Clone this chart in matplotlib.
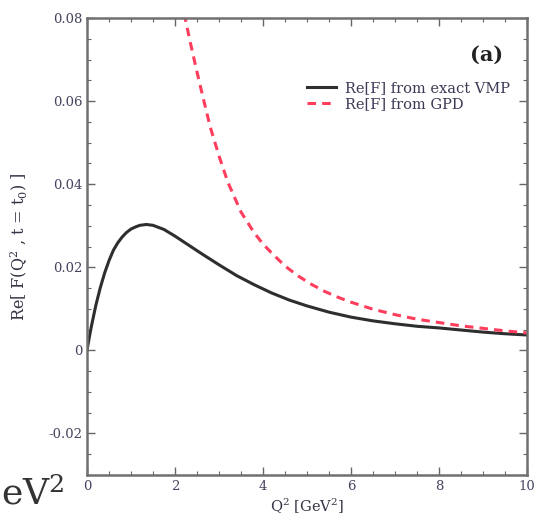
#!/usr/bin/env python3
# -*- coding: utf-8 -*-

import matplotlib

matplotlib.use("Agg")
import matplotlib.pyplot as plt
from matplotlib.ticker import MultipleLocator

plt.rcParams["font.family"] = ["DejaVu Serif"]
plt.rcParams["mathtext.fontset"] = "dejavuserif"

# Re[F] from exact VMP (black, solid)
q2_vmp = [0.0, 0.05, 0.1, 0.2, 0.3, 0.4, 0.5, 0.6, 0.7, 0.8, 0.9, 1.0, 1.1,
          1.2, 1.35, 1.5, 1.75, 2.0, 2.3, 2.6, 3.0, 3.4, 3.8, 4.2, 4.6, 5.0,
          5.5, 6.0, 6.5, 7.0, 7.5, 8.0, 8.5, 9.0, 9.5, 10.0]
re_vmp = [0.0, 0.0030, 0.0058, 0.0108, 0.0150, 0.0186, 0.0216, 0.0241,
          0.0259, 0.0273, 0.0284, 0.0292, 0.0297, 0.0301, 0.0303, 0.0301,
          0.0291, 0.0275, 0.0254, 0.0233, 0.0206, 0.0180, 0.0158, 0.0138,
          0.0121, 0.0107, 0.0092, 0.0080, 0.0071, 0.0064, 0.0058, 0.0054,
          0.0049, 0.0044, 0.0040, 0.0037]

# Re[F] from GPD (red, dashed)
q2_gpd = [2.0, 2.1, 2.23, 2.35, 2.5, 2.65, 2.8, 3.0, 3.2, 3.5, 3.8, 4.0,
          4.2, 4.5, 4.8, 5.1, 5.4, 5.7, 6.0, 6.5, 7.0, 7.5, 8.0, 8.5, 9.0,
          9.5, 10.0]
re_gpd = [0.094, 0.0875, 0.080, 0.0740, 0.0670, 0.0603, 0.0538, 0.0468,
          0.0405, 0.0333, 0.0283, 0.0256, 0.0234, 0.0203, 0.0179, 0.0159,
          0.0142, 0.0128, 0.0116, 0.0099, 0.0086, 0.0075, 0.0067, 0.0059,
          0.0053, 0.0047, 0.0042]

xticks = [0, 2, 4, 6, 8, 10]
yticks = [-0.02, 0, 0.02, 0.04, 0.06, 0.08]
yticklabels = ["-0.02", "0", "0.02", "0.04", "0.06", "0.08"]

fig = plt.figure(figsize=(5.38, 5.2), dpi=100)
ax = fig.add_axes([0.1617, 0.0865, 0.8179, 0.8789])

ax.plot(q2_vmp, re_vmp, color="#2e2e2e", lw=2.2,
        label="Re[F] from exact VMP")
ax.plot(q2_gpd, re_gpd, color="#ff3d5c", lw=2.2, ls=(0, (2.8, 2.0)),
        label="Re[F] from GPD")

ax.set_xlim(0, 10)
ax.set_ylim(-0.03, 0.08)
ax.set_xticks(xticks)
ax.set_xticklabels([str(t) for t in xticks])
ax.set_yticks(yticks)
ax.set_yticklabels(yticklabels)
ax.xaxis.set_minor_locator(MultipleLocator(0.5))
ax.yaxis.set_minor_locator(MultipleLocator(0.005))
ax.tick_params(which="both", direction="in", top=True, right=True,
               colors="#666666", labelcolor="#44445e", labelsize=9.5)
ax.tick_params(which="major", length=6, width=1)
ax.tick_params(which="minor", length=3, width=0.8)
for s in ax.spines.values():
    s.set_color("#707070")
    s.set_linewidth(1.8)

ax.set_xlabel(r"Q$^2$ [GeV$^2$]", fontsize=10.5, color="#333344",
              labelpad=3)
ax.set_ylabel(r"Re[ F(Q$^2$ , t = t$_0$) ]", fontsize=11.5, color="#333344",
              labelpad=13)

ax.text(0.945, 0.919, "(a)", transform=ax.transAxes, ha="right",
        va="center", fontsize=15, fontweight="bold", color="#222222")
ax.legend(loc="upper right", bbox_to_anchor=(0.985, 0.885), frameon=False,
          fontsize=10.5, handlelength=2.0, handletextpad=0.6,
          labelspacing=0.15, labelcolor="#3a3a55", borderpad=0.2)

# fragment of surrounding page text
fig.text(0.002, 0.03, r"eV$^2$", ha="left", va="baseline", fontsize=26,
         color="#333333")

fig.savefig("out.png", dpi=100)
